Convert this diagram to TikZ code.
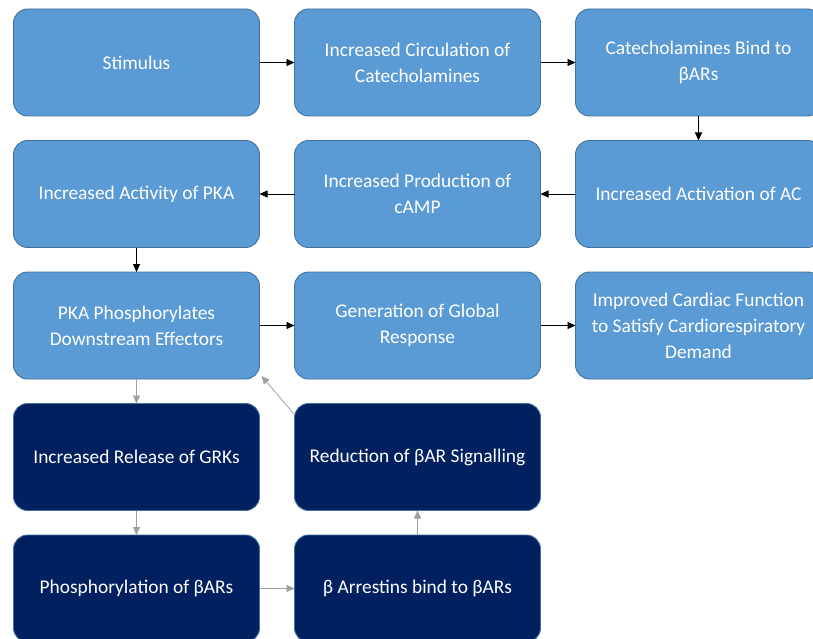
\documentclass[tikz,border=0pt]{standalone}
\usepackage{fontspec}
\setmainfont{Carlito}
\usetikzlibrary{positioning, arrows.meta}
\definecolor{cLIGHT}{HTML}{5B9BD5}
\definecolor{cDARK}{HTML}{002060}
\definecolor{cEDGE}{HTML}{41719C}
\definecolor{cGREY}{HTML}{A0A0A0}
\tikzset{
  stepbox/.style={
    draw=cEDGE, line width=0.9pt,
    rounded corners=14pt,
    fill=#1,
    text=white,
    align=center,
    inner sep=0pt,
    outer sep=0pt,
    minimum width=246pt,
    minimum height=107pt,
    font=\fontsize{19.4}{26}\selectfont
  },
  flow/.style={
    -{Triangle[length=8pt,width=7pt]},
    line width=0.8pt,
    draw=black
  },
  feedback/.style={
    flow,
    draw=cGREY
  }
}

\begin{document}
\begin{tikzpicture}[node distance=24.5pt and 35pt]
  \useasboundingbox (0,0) rectangle (813pt,-639pt);
  % top rows: the signalling cascade
  \node[stepbox=cLIGHT] (stim) at (136.5pt,-62.5pt) {Stimulus};
  \node[stepbox=cLIGHT, right=of stim] (circ) {Increased Circulation of\\Catecholamines};
  \node[stepbox=cLIGHT, right=of circ] (bind) {Catecholamines Bind to\\βARs};
  \node[stepbox=cLIGHT, below=of bind] (ac) {Increased Activation of AC};
  \node[stepbox=cLIGHT, left=of ac] (camp) {Increased Production of\\cAMP};
  \node[stepbox=cLIGHT, left=of camp] (pka) {Increased Activity of PKA};
  \node[stepbox=cLIGHT, below=of pka] (phos) {PKA Phosphorylates\\Downstream Effectors};
  \node[stepbox=cLIGHT, right=of phos] (glob) {Generation of Global\\Response};
  \node[stepbox=cLIGHT, right=of glob] (card) {Improved Cardiac Function\\to Satisfy Cardiorespiratory\\Demand};
  % bottom rows: desensitisation loop
  \node[stepbox=cDARK, below=of phos] (grk) {Increased Release of GRKs};
  \node[stepbox=cDARK, below=of grk] (phosb) {Phosphorylation of βARs};
  \node[stepbox=cDARK, right=of phosb] (arrest) {β Arrestins bind to βARs};
  \node[stepbox=cDARK, above=of arrest] (redu) {Reduction of βAR Signalling};

  \draw[flow] (stim) -- (circ);
  \draw[flow] (circ) -- (bind);
  \draw[flow] (bind) -- (ac);
  \draw[flow] (ac) -- (camp);
  \draw[flow] (camp) -- (pka);
  \draw[flow] (pka) -- (phos);
  \draw[flow] (phos) -- (glob);
  \draw[flow] (glob) -- (card);

  \draw[feedback] (phos) -- (grk);
  \draw[feedback] (grk) -- (phosb);
  \draw[feedback] (phosb) -- (arrest);
  \draw[feedback] (arrest) -- (redu);
  \draw[feedback] ([yshift=-11pt]redu.north west) -- ([shift={(2pt,3pt)}]phos.south east);
\end{tikzpicture}
\end{document}
